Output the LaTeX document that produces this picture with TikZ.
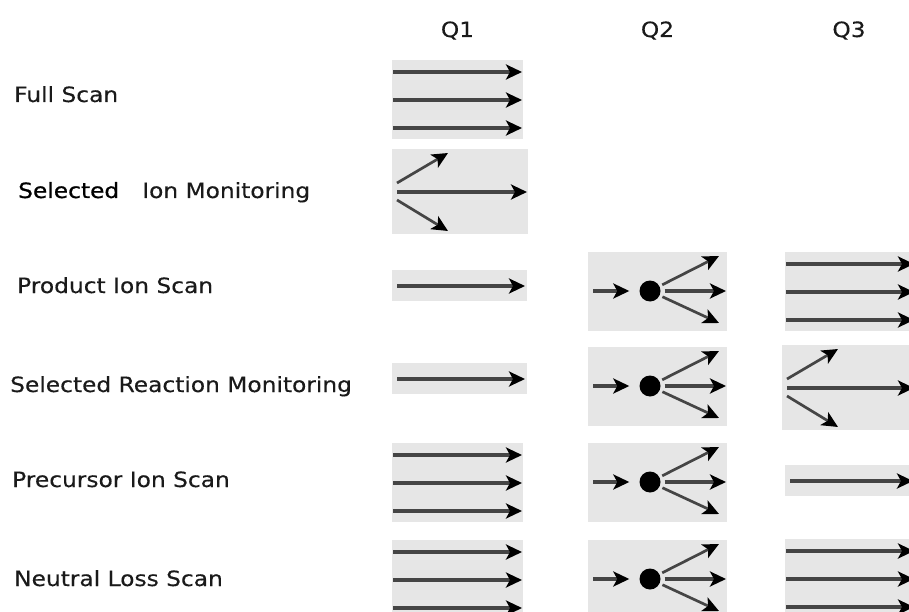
\documentclass[tikz,border=0pt]{standalone}
\usepackage{fontspec}
\newfontfamily\labfont{DejaVu Sans}[FakeStretch=1.11,FakeBold=0.25]
\newfontfamily\labboldfont{DejaVu Sans}[FakeStretch=1.11,FakeBold=0.7]
\usetikzlibrary{arrows.meta}

\definecolor{panelgray}{HTML}{E6E6E6}
\definecolor{shaft}{HTML}{454545}
\definecolor{ink}{HTML}{1A1A1A}

\tikzset{
  panelfill/.style={fill=panelgray, draw=none},
  ray/.style={draw=shaft, line width=3.2pt,
    -{Stealth[length=16pt,width=15pt,inset=4pt,black]}},
  thinray/.style={ray, line width=2.7pt},
  rowlabel/.style={anchor=base west, inner sep=0pt, text=ink,
    font=\labfont\fontsize{21}{25}\selectfont},
  colhead/.style={anchor=base, inner sep=0pt, text=ink,
    font=\labfont\fontsize{21}{25}\selectfont},
  cellball/.style={circle, fill=black, draw=none, minimum size=21pt, inner sep=0pt},
  % three parallel rays, panel width as argument
  pics/tri/.style={code={
    \fill[panelfill] (0,0) rectangle (#1,79);
    \coordinate (-s1) at (1,12);  \coordinate (-e1) at (#1-1,12);
    \coordinate (-s2) at (1,40);  \coordinate (-e2) at (#1-1,40);
    \coordinate (-s3) at (1,68);  \coordinate (-e3) at (#1-1,68);
    \draw[ray] (-s1) -- (-e1);
    \draw[ray] (-s2) -- (-e2);
    \draw[ray] (-s3) -- (-e3);
  }},
  % one ray through, two deflected
  pics/fan/.style={code={
    \fill[panelfill] (0,0) rectangle (#1,85);
    \coordinate (-s1) at (5,34);  \coordinate (-e1) at (56,4);
    \coordinate (-s2) at (5,43);  \coordinate (-e2) at (#1-1,43);
    \coordinate (-s3) at (5,51);  \coordinate (-e3) at (56,82);
    \draw[thinray] (-s1) -- (-e1);
    \draw[ray] (-s2) -- (-e2);
    \draw[thinray] (-s3) -- (-e3);
  }},
  % a single ray
  pics/single/.style={code={
    \fill[panelfill] (0,0) rectangle (#1,31);
    \coordinate (-s) at (5,16);  \coordinate (-e) at (#1-2,16);
    \draw[ray] (-s) -- (-e);
  }},
  % collision cell: ray in, fragments out
  pics/cell/.style={code={
    \fill[panelfill] (0,0) rectangle (139,79);
    \node[cellball] (-ball) at (62,39) {};
    \coordinate (-in) at (5,39);
    \coordinate (-o1) at (131,4);
    \coordinate (-o2) at (138,39);
    \coordinate (-o3) at (131,71);
    \draw[ray, shorten >=10pt] (-in) -- (-ball);
    \draw[thinray, shorten <=3pt] (-ball) -- (-o1);
    \draw[ray, shorten <=4pt] (-ball) -- (-o2);
    \draw[thinray, shorten <=3pt] (-ball) -- (-o3);
  }},
}

\begin{document}
\begin{tikzpicture}[x=1pt, y=-1pt]
\useasboundingbox (0,0) rectangle (909,612);
\clip (0,0) rectangle (909,612);
\fill[white] (0,0) rectangle (909,612);

% column headings
\node[colhead] (q1) at (457.5,37) {Q1};
\node[colhead] (q2) at (657.5,37) {Q2};
\node[colhead] (q3) at (849,37) {Q3};

% scan modes
\node[rowlabel] (fullscan) at (14,102) {Full Scan};
\node[rowlabel] (sim) at (18,198) {{\labboldfont\color{black}Selected}\hspace{23pt}Ion Monitoring};
\node[rowlabel] (productscan) at (17,293) {Product Ion Scan};
\node[rowlabel] (srm) at (10,392) {Selected Reaction Monitoring};
\node[rowlabel] (precursorscan) at (12,487) {Precursor Ion Scan};
\node[rowlabel] (neutralloss) at (14,586) {Neutral Loss Scan};

% Q1
\pic (fsA) at (392,60) {tri=131};
\pic (simA) at (392,149) {fan=136};
\pic (piA) at (392,270) {single=135};
\pic (srmA) at (392,363) {single=135};
\pic (prA) at (392,443) {tri=131};
\pic (nlA) at (392,540) {tri=131};

% Q2
\pic (piB) at (588,252) {cell};
\pic (srmB) at (588,347) {cell};
\pic (prB) at (588,443) {cell};
\pic (nlB) at (588,540) {cell};

% Q3
\pic (piC) at (785,252) {tri=130};
\pic (srmC) at (782,345) {fan=133};
\pic (prC) at (785,465) {single=130};
\pic (nlC) at (785,539) {tri=130};
\end{tikzpicture}
\end{document}
